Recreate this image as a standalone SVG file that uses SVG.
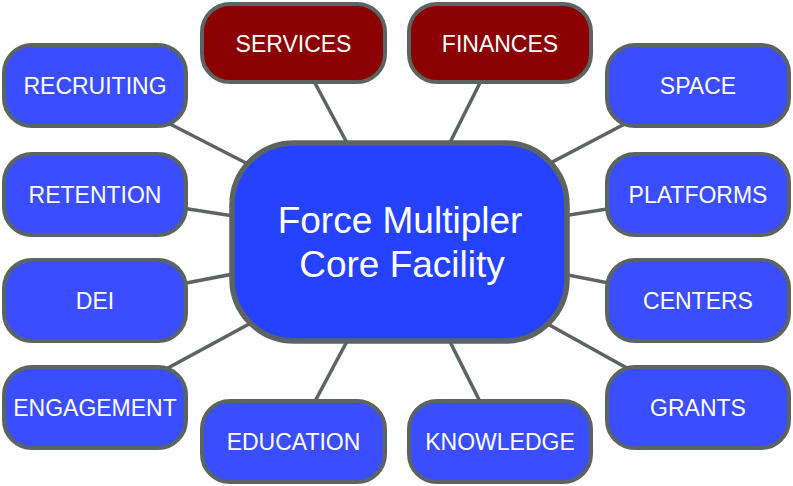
<svg xmlns="http://www.w3.org/2000/svg" width="793" height="486" viewBox="0 0 793 486">
<style>
.n{fill:#3a4dff;stroke:#5b6462;stroke-width:4}
.r{fill:#8b0000;stroke:#5b6462;stroke-width:4}
.c{fill:#2442ff;stroke:#5b6462;stroke-width:5.5}
.t{font-family:"Liberation Sans",Arial,sans-serif;font-size:23px;fill:#ffffff;text-anchor:middle}
.ct{font-family:"Liberation Sans",Arial,sans-serif;font-size:37px;fill:#ffffff;text-anchor:middle}
.l{stroke:#5b6462;stroke-width:3.5;fill:none}
</style>
<rect width="793" height="486" fill="#ffffff"/>
<g id="connectors">
<line class="l" x1="400" y1="242" x2="95" y2="85.5"/>
<line class="l" x1="400" y1="242" x2="95" y2="194.5"/>
<line class="l" x1="400" y1="242" x2="95" y2="300.5"/>
<line class="l" x1="400" y1="242" x2="95" y2="407.5"/>
<line class="l" x1="400" y1="242" x2="293.5" y2="43"/>
<line class="l" x1="400" y1="242" x2="500" y2="43"/>
<line class="l" x1="400" y1="242" x2="698" y2="85.5"/>
<line class="l" x1="400" y1="242" x2="698" y2="194.5"/>
<line class="l" x1="400" y1="242" x2="698" y2="300.5"/>
<line class="l" x1="400" y1="242" x2="698" y2="407.5"/>
<line class="l" x1="400" y1="242" x2="293.5" y2="441.5"/>
<line class="l" x1="400" y1="242" x2="500" y2="441.5"/>
</g>
<g id="recruiting"><rect class="n" x="4" y="45" width="182" height="81" rx="28"/><text class="t" x="95" y="94">RECRUITING</text></g>
<g id="retention"><rect class="n" x="4" y="154" width="182" height="81" rx="28"/><text class="t" x="95" y="203">RETENTION</text></g>
<g id="dei"><rect class="n" x="4" y="260" width="182" height="81" rx="28"/><text class="t" x="95" y="309">DEI</text></g>
<g id="engagement"><rect class="n" x="4" y="367" width="182" height="81" rx="28"/><text class="t" x="95" y="416">ENGAGEMENT</text></g>
<g id="services"><rect class="r" x="202" y="4" width="183" height="78" rx="28"/><text class="t" x="293.5" y="52">SERVICES</text></g>
<g id="finances"><rect class="r" x="409" y="4" width="182" height="78" rx="28"/><text class="t" x="500" y="52">FINANCES</text></g>
<g id="space"><rect class="n" x="607" y="45" width="182" height="81" rx="28"/><text class="t" x="698" y="94">SPACE</text></g>
<g id="platforms"><rect class="n" x="607" y="154" width="182" height="81" rx="28"/><text class="t" x="698" y="203">PLATFORMS</text></g>
<g id="centers"><rect class="n" x="607" y="260" width="182" height="81" rx="28"/><text class="t" x="698" y="309">CENTERS</text></g>
<g id="grants"><rect class="n" x="607" y="367" width="182" height="81" rx="28"/><text class="t" x="698" y="416">GRANTS</text></g>
<g id="education"><rect class="n" x="202" y="401" width="183" height="81" rx="28"/><text class="t" x="293.5" y="450">EDUCATION</text></g>
<g id="knowledge"><rect class="n" x="409" y="401" width="182" height="81" rx="28"/><text class="t" x="500" y="450">KNOWLEDGE</text></g>
<g id="core"><rect class="c" x="232" y="143" width="335" height="198" rx="62"/><text class="ct" x="400" y="233">Force Multipler</text><text class="ct" x="402" y="277">Core Facility</text></g>
</svg>
